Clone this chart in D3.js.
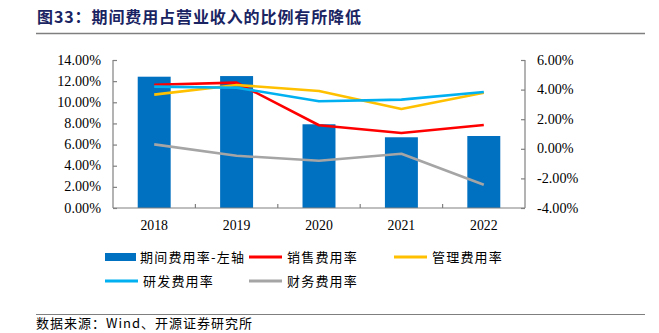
<!DOCTYPE html>
<html><head><meta charset="utf-8">
<script src="https://cdn.jsdelivr.net/npm/d3@7"></script>
<style>body{margin:0;background:#fff}svg{display:block}</style>
</head><body><svg id="c" width="659" height="333"></svg>
<script>
const categories = ["2018","2019","2020","2021","2022"];
const periodRate = [12.42, 12.48, 7.92, 6.69, 6.81];
const salesRate = [4.33, 4.47, 1.59, 1.07, 1.61];
const mgmtRate = [3.66, 4.31, 3.91, 2.69, 3.79];
const rdRate = [4.20, 4.13, 3.21, 3.32, 3.84];
const finRate = [0.30, -0.47, -0.81, -0.33, -2.43];
const leftTicks = [0,2,4,6,8,10,12,14];
const rightTicks = [-4,-2,0,2,4,6];
const lineSeries = [
  {name:"销售费用率", values:salesRate, color:"#FF0000"},
  {name:"管理费用率", values:mgmtRate, color:"#FFC000"},
  {name:"研发费用率", values:rdRate, color:"#00B0F0"},
  {name:"财务费用率", values:finRate, color:"#A5A5A5"}
];
const svg = d3.select("#c");
const L=113, R=525, T=60, B=208;
const x = d3.scaleBand().domain(categories).range([L,R]).paddingInner(0.6).paddingOuter(0.3);
const xs = d3.scaleBand().domain(categories).range([L,R]);
const yL = d3.scaleLinear().domain([0,14]).range([B,T]);
const yR = d3.scaleLinear().domain([-4,6]).range([B,T]);
const serif = "'Liberation Serif','Times New Roman',serif";
const cjk = "'Noto Sans CJK SC',sans-serif";

// title
svg.append("text").attr("x",37).attr("y",23).attr("font-family",cjk).attr("font-weight","bold")
  .attr("font-size",16).attr("fill","#1A2462").attr("letter-spacing",0.9).text("图33：期间费用占营业收入的比例有所降低");
svg.append("line").attr("x1",36).attr("x2",645).attr("y1",33.5).attr("y2",33.5).attr("stroke","#7f7f7f").attr("stroke-width",1.5);

// bars
svg.selectAll("rect.bar").data(categories).join("rect").attr("class","bar")
  .attr("x",d=>x(d)).attr("width",x.bandwidth())
  .attr("y",(d,i)=>yL(periodRate[i])).attr("height",(d,i)=>B-yL(periodRate[i]))
  .attr("fill","#0070C0");

// axes
const ax = "#808080";
const gL = svg.append("g").attr("transform",`translate(${L},0)`).call(d3.axisRight(yL).tickValues(leftTicks).tickSize(4).tickFormat(""));
const gR = svg.append("g").attr("transform",`translate(${R},0)`).call(d3.axisLeft(yR).tickValues(rightTicks).tickSize(4).tickFormat(""));
[gL,gR].forEach(g=>{g.selectAll("line").attr("stroke",ax).attr("stroke-width",1.2);g.select(".domain").remove();});
svg.append("line").attr("x1",L).attr("x2",L).attr("y1",T).attr("y2",B).attr("stroke",ax).attr("stroke-width",1.2);
svg.append("line").attr("x1",R).attr("x2",R).attr("y1",T).attr("y2",B).attr("stroke",ax).attr("stroke-width",1.2);
svg.append("line").attr("x1",L).attr("x2",R).attr("y1",B).attr("y2",B).attr("stroke",ax).attr("stroke-width",1.2);
svg.selectAll("line.sep").data(categories.slice(1)).join("line").attr("class","sep")
  .attr("x1",d=>xs(d)).attr("x2",d=>xs(d)).attr("y1",B).attr("y2",B-4).attr("stroke",ax).attr("stroke-width",1.2);

svg.selectAll("text.tl").data(leftTicks).join("text").attr("class","tl")
  .attr("x",101).attr("y",d=>yL(d)+4.5).attr("text-anchor","end").attr("font-family",serif).attr("font-size",14.2).attr("fill","#000")
  .text(d=>d.toFixed(2)+"%");
svg.selectAll("text.tr").data(rightTicks).join("text").attr("class","tr")
  .attr("x",537).attr("y",d=>yR(d)+4.5).attr("text-anchor","start").attr("font-family",serif).attr("font-size",14.2).attr("fill","#000")
  .text(d=>d.toFixed(2)+"%");
svg.selectAll("text.tx").data(categories).join("text").attr("class","tx")
  .attr("x",d=>x(d)+x.bandwidth()/2).attr("y",230).attr("text-anchor","middle").attr("font-family",serif).attr("font-size",13.8).attr("fill","#000")
  .text(d=>d);

// lines
const line = d3.line().x((d,i)=>x(categories[i])+x.bandwidth()/2).y(d=>yR(d));
lineSeries.forEach(s=>{
  svg.append("path").attr("d",line(s.values)).attr("fill","none").attr("stroke",s.color).attr("stroke-width",2.6).attr("stroke-linejoin","round");
});

// legend
const leg = [
  {name:"期间费用率-左轴", type:"bar", color:"#0070C0", x:105, y:257},
  {name:lineSeries[0].name, type:"line", color:lineSeries[0].color, x:249, y:257},
  {name:lineSeries[1].name, type:"line", color:lineSeries[1].color, x:394, y:257},
  {name:lineSeries[2].name, type:"line", color:lineSeries[2].color, x:105, y:281},
  {name:lineSeries[3].name, type:"line", color:lineSeries[3].color, x:249, y:281}
];
leg.forEach(l=>{
  if(l.type==="bar") svg.append("rect").attr("x",l.x).attr("y",l.y-4).attr("width",31).attr("height",8).attr("fill",l.color);
  else svg.append("line").attr("x1",l.x).attr("x2",l.x+33).attr("y1",l.y).attr("y2",l.y).attr("stroke",l.color).attr("stroke-width",3);
  svg.append("text").attr("x",l.x+(l.type==="bar"?35:38)).attr("y",l.y+5).attr("font-family",cjk).attr("font-size",13).attr("letter-spacing",1.2).attr("fill","#000").text(l.name);
});

// source
svg.append("line").attr("x1",36).attr("x2",645).attr("y1",314.5).attr("y2",314.5).attr("stroke","#7f7f7f").attr("stroke-width",1);
svg.append("text").attr("x",36).attr("y",328).attr("font-family",cjk).attr("font-size",13).attr("letter-spacing",1).attr("fill","#000").text("数据来源：Wind、开源证券研究所");
</script></body></html>
